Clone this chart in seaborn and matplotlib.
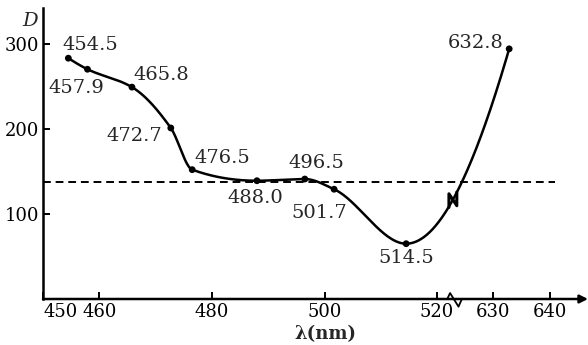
import numpy as np
import pandas as pd
import matplotlib
matplotlib.use('Agg')
import matplotlib.pyplot as plt
import seaborn as sns

sns.set_theme(style='white')
plt.rcParams['font.family'] = ['DejaVu Serif']

# ====
# DATA
# ====
wavelengths = [454.5, 457.9, 465.8, 472.7, 476.5, 488.0, 496.5, 501.7, 514.5, 632.8]
d_values = [283, 270, 249, 201, 152, 139, 141, 129, 65, 294]
point_labels = ['454.5', '457.9', '465.8', '472.7', '476.5',
                '488.0', '496.5', '501.7', '514.5', '632.8']
threshold = 138
x_ticks = [450, 460, 480, 500, 520, 630, 640]
y_ticks = [100, 200, 300]

# the axis is broken: everything above 600 nm is shifted left by 100 nm
shift = 100
break_pos = 522.8

# label offsets from each point, in pixels
offsets = [(22, 13), (-11, -19), (29, 12), (-36, -8), (30, 12),
           (-2, -17), (12, 16), (-15, -24), (0, -14), (-33, 6)]


# =========
# FUNCTIONS
# =========
def to_axis(lam):
    """Map a wavelength to the broken axis."""
    return lam - shift if lam > 600 else lam


def pchip(x, y, xs):
    """Monotone cubic curve through the points (used only for drawing)."""
    x = np.asarray(x, float)
    y = np.asarray(y, float)
    h = np.diff(x)
    delta = np.diff(y) / h
    n = len(x)
    m = np.zeros(n)
    for k in range(1, n - 1):
        if delta[k - 1] * delta[k] > 0:
            w1 = 2 * h[k] + h[k - 1]
            w2 = h[k] + 2 * h[k - 1]
            m[k] = (w1 + w2) / (w1 / delta[k - 1] + w2 / delta[k])

    def end(h0, h1, d0, d1):
        d = ((2 * h0 + h1) * d0 - h0 * d1) / (h0 + h1)
        if np.sign(d) != np.sign(d0):
            d = 0
        elif np.sign(d0) != np.sign(d1) and abs(d) > abs(3 * d0):
            d = 3 * d0
        return d

    m[0] = end(h[0], h[1], delta[0], delta[1])
    m[-1] = end(h[-1], h[-2], delta[-1], delta[-2])

    idx = np.clip(np.searchsorted(x, xs) - 1, 0, n - 2)
    t = (xs - x[idx]) / h[idx]
    h00 = 2 * t**3 - 3 * t**2 + 1
    h10 = t**3 - 2 * t**2 + t
    h01 = -2 * t**3 + 3 * t**2
    h11 = t**3 - t**2
    return (h00 * y[idx] + h10 * h[idx] * m[idx]
            + h01 * y[idx + 1] + h11 * h[idx] * m[idx + 1])


# =====
# PLOT
# =====
x_pos = [to_axis(w) for w in wavelengths]
df = pd.DataFrame({'x': x_pos, 'D': d_values})

xs = np.linspace(x_pos[0], x_pos[-1], 800)
curve = pd.DataFrame({'x': xs, 'D': pchip(x_pos, d_values, xs)})

fig = plt.figure(figsize=(5.88, 3.45), dpi=100)
ax = fig.add_axes([43 / 588, 46 / 345, 545 / 588, 291 / 345])

sns.lineplot(data=curve, x='x', y='D', color='black', lw=1.8,
             sort=False, ax=ax)
sns.scatterplot(data=df, x='x', y='D', color='black', s=24,
                edgecolor='none', ax=ax, zorder=5)

# dashed reference line
ax.plot([450, 540.9], [threshold, threshold], color='black', lw=1.4,
        ls=(0, (4, 2.5)))

# point labels
for xp, yp, lab, off in zip(x_pos, d_values, point_labels, offsets):
    ax.annotate(lab, (xp, yp), xytext=off, textcoords='offset pixels',
                ha='center', va='center', fontsize=14)

# break mark on the curve
yc = pchip(x_pos, d_values, np.array([break_pos]))[0]
ax.plot([break_pos - 0.7, break_pos - 0.7, break_pos + 0.7, break_pos + 0.7],
        [yc - 9, yc + 7, yc - 7, yc + 9], color='black', lw=2.2)

# break mark on the x axis
ax.plot([break_pos - 1.0, break_pos - 0.5, break_pos + 1.0, break_pos + 1.6],
        [0, 7, -9, 0], color='black', lw=1.3, clip_on=False)

ax.set_xlim(450, 546.8)
ax.set_ylim(0, 342)

ax.set_xticks([to_axis(v) for v in x_ticks])
ax.set_xticklabels([str(v) for v in x_ticks])
ax.get_xticklabels()[0].set_horizontalalignment('left')
ax.set_yticks(y_ticks)
ax.set_yticklabels([str(v) for v in y_ticks])
ax.tick_params(direction='in', length=5, width=1.4, labelsize=13,
               pad=3, bottom=True, left=True, colors='black')
ax.set_xlabel('')
ax.set_ylabel('')

for side in ['top', 'right', 'bottom']:
    ax.spines[side].set_visible(False)
ax.spines['left'].set_linewidth(1.8)
ax.spines['left'].set_color('black')

# x axis with an arrow head
ax.annotate('', xy=(1.0, 0), xytext=(0, 0), xycoords='axes fraction',
            arrowprops=dict(arrowstyle='-|>', color='black', lw=1.8,
                            mutation_scale=12, shrinkA=0, shrinkB=0))

fig.text(30 / 588, 1 - 21 / 345, 'D', style='italic', fontsize=14,
         ha='center', va='center')
fig.text(325 / 588, 1 - 334 / 345, 'λ(nm)', fontweight='bold', fontsize=13,
         ha='center', va='center')

plt.savefig('out.png', dpi=100)
plt.close()
